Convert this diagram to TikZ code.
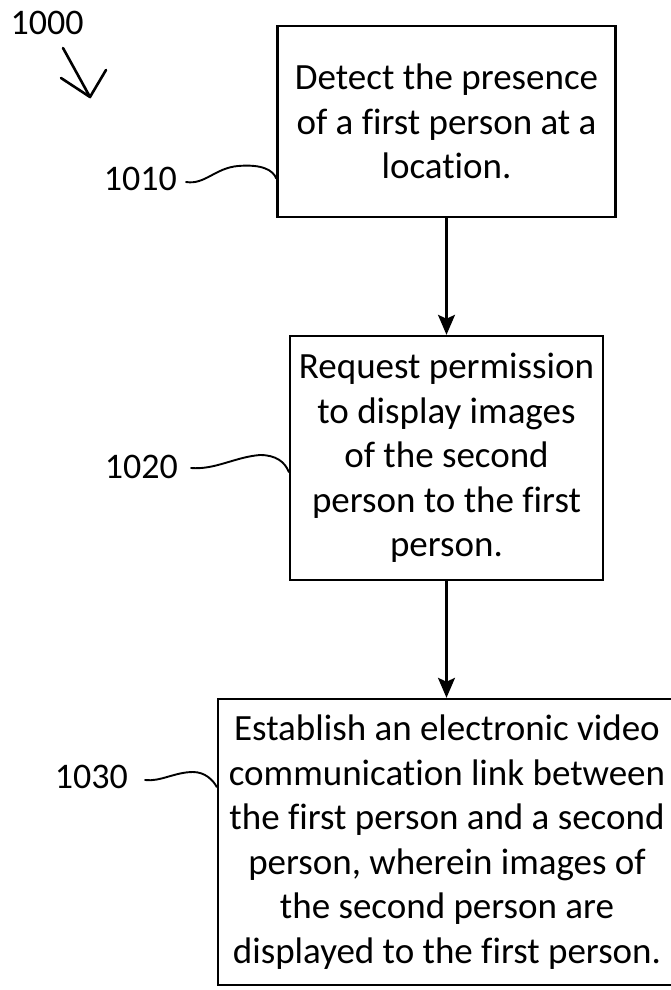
\documentclass[tikz,border=0pt]{standalone}
\usepackage{fontspec}
\setmainfont{Carlito}[Ligatures=NoCommon]
\usetikzlibrary{arrows.meta}
\begin{document}
\begin{tikzpicture}[x=1pt,y=-1pt,
  stepbox/.style={draw, line width=2.4pt, align=center, inner sep=0pt,
    font=\fontsize{37}{44.5}\selectfont},
  reflabel/.style={inner sep=0pt, font=\fontsize{36}{40}\selectfont},
  flow/.style={line width=2.4pt, -{Stealth[width=17pt,length=20pt,inset=4pt]}},
  lead/.style={line width=1.9pt, line cap=round},
  pointer/.style={line width=2.6pt, line cap=round, line join=round}]
\useasboundingbox (0,0) rectangle (670,990);

% process steps
\node[stepbox, minimum width=338pt, minimum height=191pt] (s1) at (446.5,121.5)
  {Detect the presence\\of a first person at a\\location.};
\node[stepbox, minimum width=313pt, minimum height=244pt] (s2) at (446.5,458)
  {Request permission\\to display images\\of the second\\person to the first\\person.};
\node[stepbox, minimum width=458pt, minimum height=286pt] (s3) at (447,842)
  {Establish an electronic video\\communication link between\\the first person and a second\\person, wherein images of\\the second person are\\displayed to the first person.};

% flow arrows
\draw[flow] (s1.south) -- (s1.south |- s2.north);
\draw[flow] (s2.south) -- (s2.south |- s3.north);

% figure number with its pointer
\node[reflabel] (f1000) at (47,23) {1000};
\coordinate (p0) at (63,48);
\coordinate (p1) at (90,97);
\draw[pointer] (p0) -- (p1);
\draw[pointer] (61,78) -- (p1) -- (106,70);

% reference numerals with lead lines
\node[reflabel, anchor=east] (l1010) at (177,179) {1010};
\draw[lead] ([xshift=9pt,yshift=-3pt]l1010.east) .. controls (205,185) and (215,168) .. (238,166)
  .. controls (262,164) and (273,170) .. ([yshift=-57pt]s1.west);

\node[reflabel, anchor=east] (l1020) at (178,467) {1020};
\draw[lead] ([xshift=13pt,yshift=-1pt]l1020.east) .. controls (215,470) and (235,457) .. (260,455)
  .. controls (276,455) and (285,462) .. ([yshift=-14pt]s2.west);

\node[reflabel, anchor=east] (l1030) at (128,777) {1030};
\draw[lead] ([xshift=17pt,yshift=-3pt]l1030.east) .. controls (160,782) and (175,772) .. (193,772)
  .. controls (205,772) and (213,780) .. ([yshift=55pt]s3.west);
\end{tikzpicture}
\end{document}
